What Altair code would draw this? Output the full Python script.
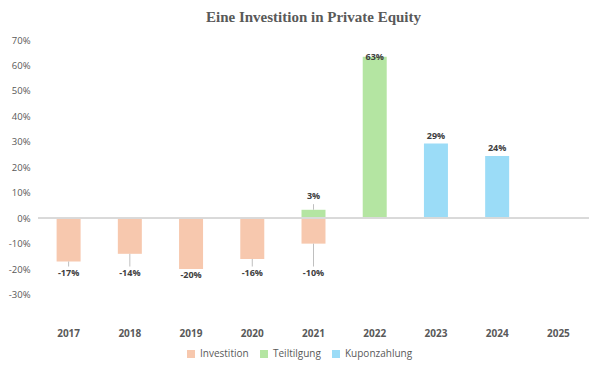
import altair as alt
import pandas as pd

years = ["2017", "2018", "2019", "2020", "2021", "2022", "2023", "2024", "2025"]
series = ["Investition", "Teiltilgung", "Kuponzahlung"]
colors = ["#F7C8AE", "#B4E5A2", "#9BDCF7"]

inv_years = ["2017", "2018", "2019", "2020", "2021"]
inv_vals = [-0.17, -0.14, -0.20, -0.16, -0.10]
teil_years = ["2021", "2022"]
teil_vals = [0.033, 0.634]
kupon_years = ["2023", "2024"]
kupon_vals = [0.293, 0.244]
y_ticks = [-0.3, -0.2, -0.1, 0.0, 0.1, 0.2, 0.3, 0.4, 0.5, 0.6, 0.7]

rows = []
for yr, v in zip(inv_years, inv_vals):
    rows.append({"year": yr, "serie": "Investition", "v": v})
for yr, v in zip(teil_years, teil_vals):
    rows.append({"year": yr, "serie": "Teiltilgung", "v": v})
for yr, v in zip(kupon_years, kupon_vals):
    rows.append({"year": yr, "serie": "Kuponzahlung", "v": v})
df = pd.DataFrame(rows)

font = "Open Sans"
grey = "#595959"
xscale = alt.Scale(domain=years, paddingInner=0, paddingOuter=0)
yscale = alt.Scale(domain=[-0.4, 0.7], nice=False, zero=False)

xaxis = alt.Axis(title=None, labelAngle=0, domain=False, ticks=False,
                 labelFont=font, labelFontSize=10, labelFontWeight="bold",
                 labelColor=grey, labelPadding=8)
yaxis = alt.Axis(title=None, values=y_ticks, tickCount=len(y_ticks), grid=False,
                 labelExpr="replace(format(datum.value, '.0%'), '\u2212', '-')",
                 labelOverlap=False, labelBound=False,
                 domain=False, ticks=False, labelFont=font,
                 labelFontSize=9.5, labelColor=grey, labelPadding=8)

base = alt.Chart(df)

bars = base.mark_bar(size=24).encode(
    x=alt.X("year:N", scale=xscale, axis=xaxis),
    y=alt.Y("v:Q", scale=yscale, axis=yaxis),
    y2=alt.datum(0),
    color=alt.Color("serie:N", scale=alt.Scale(domain=series, range=colors),
                    legend=alt.Legend(title=None, orient="none", direction="horizontal",
                                      legendX=148, legendY=309, symbolType="square",
                                      symbolSize=64, labelFont=font, labelFontSize=10,
                                      labelColor=grey, columnPadding=10, symbolStrokeWidth=0,
                                      labelOffset=4)),
)

zero = base.mark_rule(color="#d9d9d9", strokeWidth=1).encode(
    y=alt.datum(0), x=alt.value(0), x2=alt.value(551)
)

calc = base.transform_calculate(
    lp="datum.v < 0 ? min(datum.v, -0.19) : min(max(datum.v, 0.055), 0.6)",
    lbl="replace(format(datum.v, '.0%'), '\u2212', '-')",
)

leaders = calc.transform_filter(
    "datum.v > 0 ? datum.lp > datum.v : datum.lp < datum.v"
).mark_rule(color="#bfbfbf", strokeWidth=1).encode(
    x=alt.X("year:N", scale=xscale, axis=xaxis),
    y=alt.Y("v:Q", scale=yscale, axis=yaxis),
    y2="lp:Q",
)

neg_labels = calc.transform_filter("datum.v < 0").mark_text(
    baseline="top", dy=2, font=font, fontSize=9, fontWeight="bold", color="#404040"
).encode(
    x=alt.X("year:N", scale=xscale, axis=xaxis),
    y=alt.Y("lp:Q", scale=yscale, axis=yaxis),
    text="lbl:N",
)

pos_labels = calc.transform_filter("datum.v > 0").mark_text(
    baseline="bottom", dy=-3, font=font, fontSize=9, fontWeight="bold", color="#404040"
).encode(
    x=alt.X("year:N", scale=xscale, axis=xaxis),
    y=alt.Y("lp:Q", scale=yscale, axis=yaxis),
    text="lbl:N",
)

chart = alt.layer(bars, zero, leaders, neg_labels, pos_labels).properties(
    width=551, height=280,
    autosize=alt.AutoSizeParams(type="none"),
    padding={"left": 30, "top": 32, "right": 3, "bottom": 40},
    title=alt.TitleParams("Eine Investition in Private Equity", font="Liberation Serif",
                          fontSize=15, fontWeight="bold", color=grey, anchor="middle",
                          offset=10),
).configure_view(stroke=None).configure_axis(labelOverlap=False)

chart.save("out.html", embed_options={"renderer": "svg", "actions": False})
